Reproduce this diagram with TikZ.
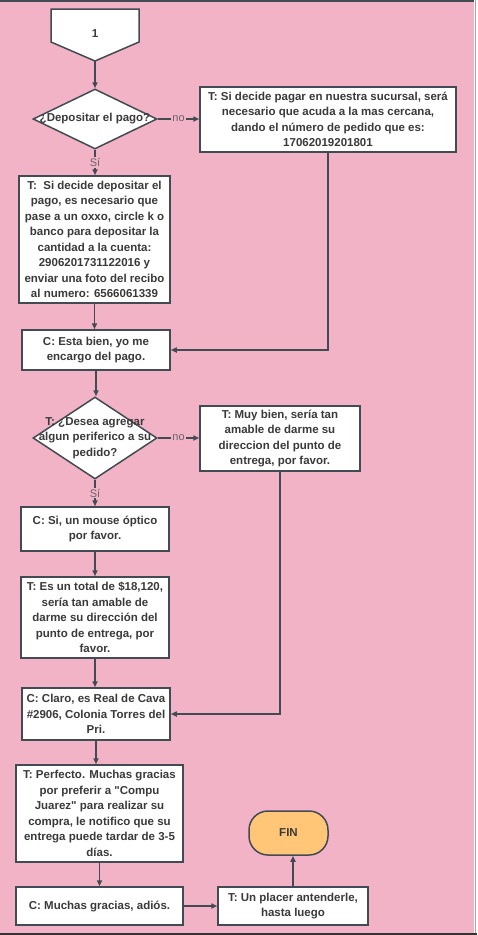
\documentclass[tikz,border=0pt]{standalone}
\usepackage{fontspec}
\setmainfont{Liberation Sans}[Ligatures=TeXOff]
\usetikzlibrary{shapes.geometric,arrows.meta}
\definecolor{bgpink}{HTML}{F3B3C7}
\definecolor{edgec}{HTML}{424A54}
\definecolor{txtc}{HTML}{3A3A3A}
\definecolor{lblc}{HTML}{666666}
\definecolor{finor}{HTML}{FFC677}
\begin{document}
\begin{tikzpicture}[x=1pt,y=-1pt,
  box/.style={draw=edgec, line width=1.5pt, fill=white, align=center,
    font=\bfseries\fontsize{11.5}{15.5}\selectfont, text=txtc, inner sep=0pt},
  dia/.style={draw=edgec, line width=1.5pt, fill=white, shape=diamond, inner sep=0pt},
  dtext/.style={align=center, font=\bfseries\fontsize{11.5}{15.5}\selectfont, text=txtc, inner sep=0pt},
  arr/.style={draw=edgec, line width=1.5pt, -{Triangle[length=6pt,width=5pt]}},
  lbl/.style={fill=bgpink, text=lblc, font=\fontsize{11}{13}\selectfont, inner sep=1pt}
]
\useasboundingbox (0,0) rectangle (477,935);
% background
\fill[bgpink] (0,0) rectangle (474,935);
\fill[white] (474,0) rectangle (477,935);
\draw[gray!70, line width=1pt] (475,0) -- (475,933);
\fill[edgec] (0,0) rectangle (474,1.5);
\fill[black!80] (0,933) rectangle (477,935);

% start off-page connector
\draw[draw=edgec, line width=1.5pt, fill=white] (51,9) -- (139,9) -- (139,42) -- (95,61) -- (51,42) -- cycle;
\node[dtext] (s1) at (95,34) {1};
\coordinate (tip) at (95,61);

% decision 1
\node[dia, minimum width=124pt, minimum height=60pt] (d1) at (95,119) {};
\node[dtext] (d1t) at (95,119) {¿Depositar el pago?};

\node[box, minimum width=256pt, minimum height=65pt] (A) at (328,119.5)
  {T: Si decide pagar en nuestra sucursal, será\\necesario que acuda a la mas cercana,\\dando el número de pedido que es:\\17062019201801};

\node[box, minimum width=151pt, minimum height=127pt] (B) at (94.5,239.5)
  {T:\ \ Si decide depositar el\\pago, es necesario que\\pase a un oxxo, circle k o\\banco para depositar la\\cantidad a la cuenta:\\2906201731122016 y\\enviar una foto del recibo\\al numero: 6566061339};

\node[box, minimum width=148pt, minimum height=40pt] (C) at (96,350)
  {C: Esta bien, yo me\\encargo del pago.};

% decision 2
\node[dia, minimum width=124pt, minimum height=82pt] (d2) at (95,438) {};
\node[dtext] (d2t) at (95,438) {T: ¿Desea agregar\\algun periferico a su\\pedido?};

\node[box, minimum width=160pt, minimum height=65pt] (D) at (280,438.5)
  {T: Muy bien, sería tan\\amable de darme su\\direccion del punto de\\entrega, por favor.};

\node[box, minimum width=148pt, minimum height=44pt] (E) at (95,529)
  {C: Si, un mouse óptico\\por favor.};

\node[box, minimum width=148pt, minimum height=81pt] (F) at (95,617.5)
  {T: Es un total de \$18,120,\\sería tan amable de\\darme su dirección del\\punto de entrega, por\\favor.};

\node[box, minimum width=148pt, minimum height=52pt] (G) at (96,714)
  {C: Claro, es Real de Cava\\\#2906, Colonia Torres del\\Pri.};

\node[box, minimum width=167pt, minimum height=97pt] (H) at (99.5,813.5)
  {T: Perfecto. Muchas gracias\\por preferir a "Compu\\Juarez" para realizar su\\compra, le notifico que su\\entrega puede tardar de 3-5\\días.};

\node[box, minimum width=167pt, minimum height=38pt] (I) at (99.5,906)
  {C: Muchas gracias, adiós.};

\node[box, minimum width=150pt, minimum height=38pt] (J) at (293,906)
  {T: Un placer antenderle,\\hasta luego};

\node[box, fill=finor, rounded corners=19pt, minimum width=79pt, minimum height=44pt] (FIN) at (288.5,833) {FIN};

% connectors
\draw[arr] (tip) -- (d1.north);
\draw[arr] (d1.east) -- node[lbl]{no} (d1.east -| A.west);
\draw[arr] (d1.south) -- node[lbl]{Sí} (d1.south |- B.north);
\draw[arr] (B.south) -- (B.south |- C.north);
\draw[arr] (A.south) |- (C.east);
\draw[arr] (C.south) -- (C.south |- d2.north);
\draw[arr] (d2.east) -- node[lbl]{no} (d2.east -| D.west);
\draw[arr] (d2.south) -- node[lbl]{Sí} (d2.south |- E.north);
\draw[arr] (E.south) -- (F.north);
\draw[arr] (F.south) -- (F.south |- G.north);
\draw[arr] (D.south) |- (G.east);
\draw[arr] (G.south) -- (G.south |- H.north);
\draw[arr] (H.south) -- (I.north);
\draw[arr] (I.east) -- (J.west);
\draw[arr] (J.north) -- (J.north |- FIN.south);
\end{tikzpicture}
\end{document}
